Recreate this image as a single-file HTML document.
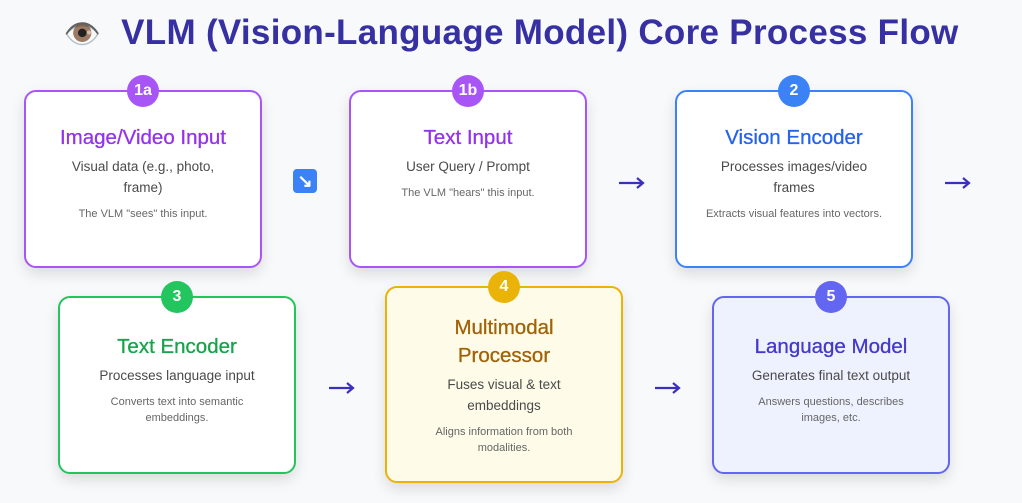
<!DOCTYPE html>
<html><head><meta charset="utf-8"><style>
body{margin:0;width:1022px;height:503px;background:#f8f9fb;font-family:"Liberation Sans",sans-serif;position:relative;overflow:hidden}
h1{position:absolute;top:13px;left:0;width:1022px;margin:0;text-align:center;font-size:35px;font-weight:900;color:#3730a3;letter-spacing:0.3px}
.card{position:absolute;width:238px;box-sizing:border-box;border:2px solid;border-radius:12px;background:#fff;box-shadow:0 6px 14px rgba(0,0,0,0.12);display:flex;flex-direction:column;justify-content:center;align-items:center;text-align:center;padding-bottom:12px}
.b{position:absolute;top:-17px;left:50%;margin-left:-16px;width:32px;height:32px;border-radius:50%;color:#fff;font-weight:bold;font-size:16px;line-height:32px;text-align:center}
.t{font-size:20.5px;line-height:28px;margin-bottom:4px;-webkit-text-stroke:0.3px currentColor}
.s{font-size:13.5px;line-height:21px;color:#4a4a4a}
.n{font-size:11px;line-height:16px;color:#666;margin-top:8px}
.ar{position:absolute;width:28px;height:14px}
</style></head><body>
<h1><span style="font-size:30px">👁️</span>&nbsp; VLM (Vision-Language Model) Core Process Flow</h1>

<div class="card" style="left:24px;top:90px;height:178px;border-color:#a855f7"><div class="b" style="background:#a855f7">1a</div><div class="t" style="color:#9333ea">Image/Video Input</div><div class="s">Visual data (e.g., photo,<br>frame)</div><div class="n">The VLM "sees" this input.</div></div>
<div class="card" style="left:349px;top:90px;height:178px;border-color:#a855f7;padding-bottom:34px"><div class="b" style="background:#a855f7">1b</div><div class="t" style="color:#9333ea">Text Input</div><div class="s">User Query / Prompt</div><div class="n">The VLM "hears" this input.</div></div>
<div class="card" style="left:675px;top:90px;height:178px;border-color:#3b82f6"><div class="b" style="background:#3b82f6">2</div><div class="t" style="color:#2563eb">Vision Encoder</div><div class="s">Processes images/video<br>frames</div><div class="n">Extracts visual features into vectors.</div></div>

<div class="card" style="left:58px;top:296px;height:178px;border-color:#22c55e"><div class="b" style="background:#22c55e">3</div><div class="t" style="color:#16a34a">Text Encoder</div><div class="s">Processes language input</div><div class="n">Converts text into semantic<br>embeddings.</div></div>
<div class="card" style="left:385px;top:286px;height:197px;border-color:#eab308;background:#fefbe8;padding-bottom:0"><div class="b" style="background:#eab308">4</div><div class="t" style="color:#a16207">Multimodal<br>Processor</div><div class="s">Fuses visual &amp; text<br>embeddings</div><div class="n">Aligns information from both<br>modalities.</div></div>
<div class="card" style="left:712px;top:296px;height:178px;border-color:#6366f1;background:#eef2ff"><div class="b" style="background:#6366f1">5</div><div class="t" style="color:#4338ca">Language Model</div><div class="s">Generates final text output</div><div class="n">Answers questions, describes<br>images, etc.</div></div>

<div style="position:absolute;left:293px;top:169px;width:24px;height:24px;border-radius:4px;background:#3b82f6;color:#fff;font-size:18px;line-height:24px;text-align:center;font-weight:bold">↘</div>
<svg class="ar" style="left:618px;top:176px" viewBox="0 0 28 14"><path d="M1 7H25M19 2L25 7L19 12" stroke="#3b2fbf" stroke-width="2.2" fill="none"/></svg>
<svg class="ar" style="left:944px;top:176px" viewBox="0 0 28 14"><path d="M1 7H25M19 2L25 7L19 12" stroke="#3b2fbf" stroke-width="2.2" fill="none"/></svg>
<svg class="ar" style="left:328px;top:381px" viewBox="0 0 28 14"><path d="M1 7H25M19 2L25 7L19 12" stroke="#3b2fbf" stroke-width="2.2" fill="none"/></svg>
<svg class="ar" style="left:654px;top:381px" viewBox="0 0 28 14"><path d="M1 7H25M19 2L25 7L19 12" stroke="#3b2fbf" stroke-width="2.2" fill="none"/></svg>
</body></html>
